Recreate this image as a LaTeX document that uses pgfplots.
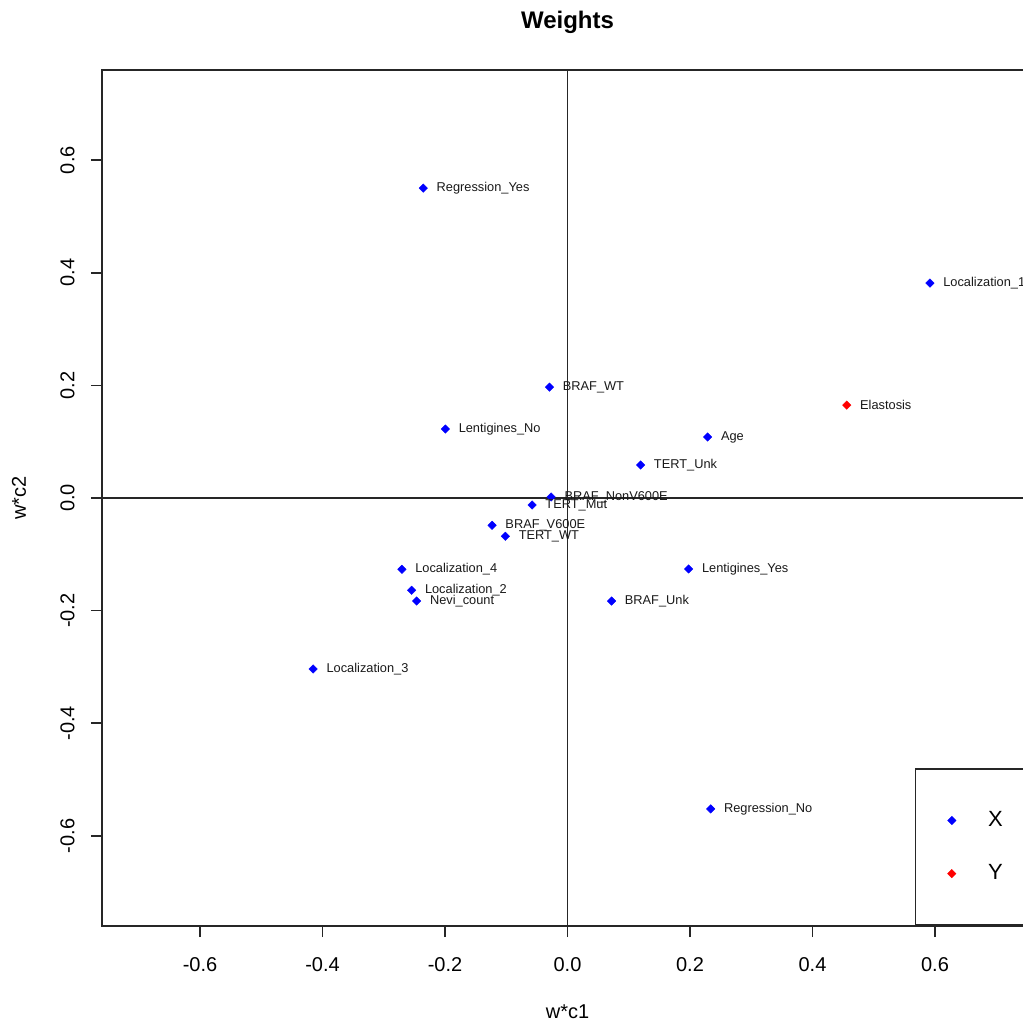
\documentclass[border=0pt]{standalone}
\usepackage{pgfplots}
\pgfplotsset{compat=1.18}
\usepackage{fontspec}
\setmainfont{Liberation Sans}
\pgfplotstableread{
x y label
-0.2354 0.5503 Regression\_Yes
0.5918 0.3817 Localization\_1
-0.0294 0.1970 BRAF\_WT
-0.1994 0.1225 Lentigines\_No
0.2289 0.1083 Age
0.1193 0.0586 TERT\_Unk
-0.0267 0.0018 BRAF\_NonV600E
-0.0578 -0.0124 TERT\_Mut
-0.1231 -0.0485 BRAF\_V600E
-0.1014 -0.0680 TERT\_WT
-0.2703 -0.1266 Localization\_4
-0.2545 -0.1639 Localization\_2
-0.2463 -0.1829 Nevi\_count
0.1978 -0.1260 Lentigines\_Yes
0.0719 -0.1829 BRAF\_Unk
-0.4152 -0.3036 Localization\_3
0.2338 -0.5521 Regression\_No
}\xdata
\pgfplotstableread{
x y label
0.4560 0.1650 Elastosis
}\ydata
\begin{document}
\begin{tikzpicture}
\useasboundingbox (-51pt,-49.5pt) rectangle (460.5pt,463pt);
\clip (-51pt,-49.5pt) rectangle (460.5pt,463pt);
\begin{axis}[
 scale only axis, width=465.5pt, height=428pt,
 xmin=-0.76, xmax=0.76, ymin=-0.76, ymax=0.76,
 axis line style={line width=0.8pt, black!85},
 tick align=outside, xtick pos=bottom, ytick pos=left,
 major tick length=5.5pt,
 tick style={line width=0.8pt, black!85},
 xtick={-0.6,-0.4,-0.2,0,0.2,0.4,0.6},
 xticklabels={-0.6,-0.4,-0.2,0.0,0.2,0.4,0.6},
 ytick={-0.6,-0.4,-0.2,0,0.2,0.4,0.6},
 yticklabels={-0.6,-0.4,-0.2,0.0,0.2,0.4,0.6},
 xticklabel style={font=\fontsize{10}{12}\selectfont, anchor=north, inner sep=0pt, yshift=-10pt},
 yticklabel style={font=\fontsize{10}{12}\selectfont, xshift=-8pt, rotate=90, anchor=south, inner sep=0pt},
 xlabel={w*c1}, ylabel={w*c2},
 xlabel style={at={(axis description cs:0.5,-0.1005)}, anchor=center, font=\fontsize{10}{12}\selectfont},
 ylabel style={at={(axis description cs:-0.0892,0.5)}, anchor=center, rotate=0, font=\fontsize{10}{12}\selectfont},
 title={Weights},
 title style={at={(axis description cs:0.5,1.042)}, anchor=center, font=\bfseries\fontsize{12}{14}\selectfont},
 legend style={at={(rel axis cs:0.873,0)}, anchor=south west, draw=black!85, line width=0.8pt,
   inner xsep=16pt, inner ysep=21.25pt, row sep=17.5pt, column sep=16pt,
   nodes={inner sep=0pt, text width=30pt}, font=\fontsize{11}{13}\selectfont},
 legend cell align=left,
 nodes near coords style={anchor=west, inner sep=0pt, xshift=6.6pt, font=\fontsize{6.4}{7.5}\selectfont, text=black!90},
]
\addplot[black!85, line width=0.8pt, forget plot] coordinates {(-0.76,0) (0.76,0)};
\addplot[black!85, line width=0.8pt, forget plot] coordinates {(0,-0.76) (0,0.76)};
\addplot[only marks, blue, mark=square*, mark size=1.5pt, mark options={rotate=45, line width=0.2pt},
  point meta=explicit symbolic, nodes near coords] table[x=x, y=y, meta=label] {\xdata};
\addlegendentry{X}
\addplot[only marks, red, mark=square*, mark size=1.5pt, mark options={rotate=45, line width=0.2pt},
  point meta=explicit symbolic, nodes near coords] table[x=x, y=y, meta=label] {\ydata};
\addlegendentry{Y}
\end{axis}
\end{tikzpicture}
\end{document}
